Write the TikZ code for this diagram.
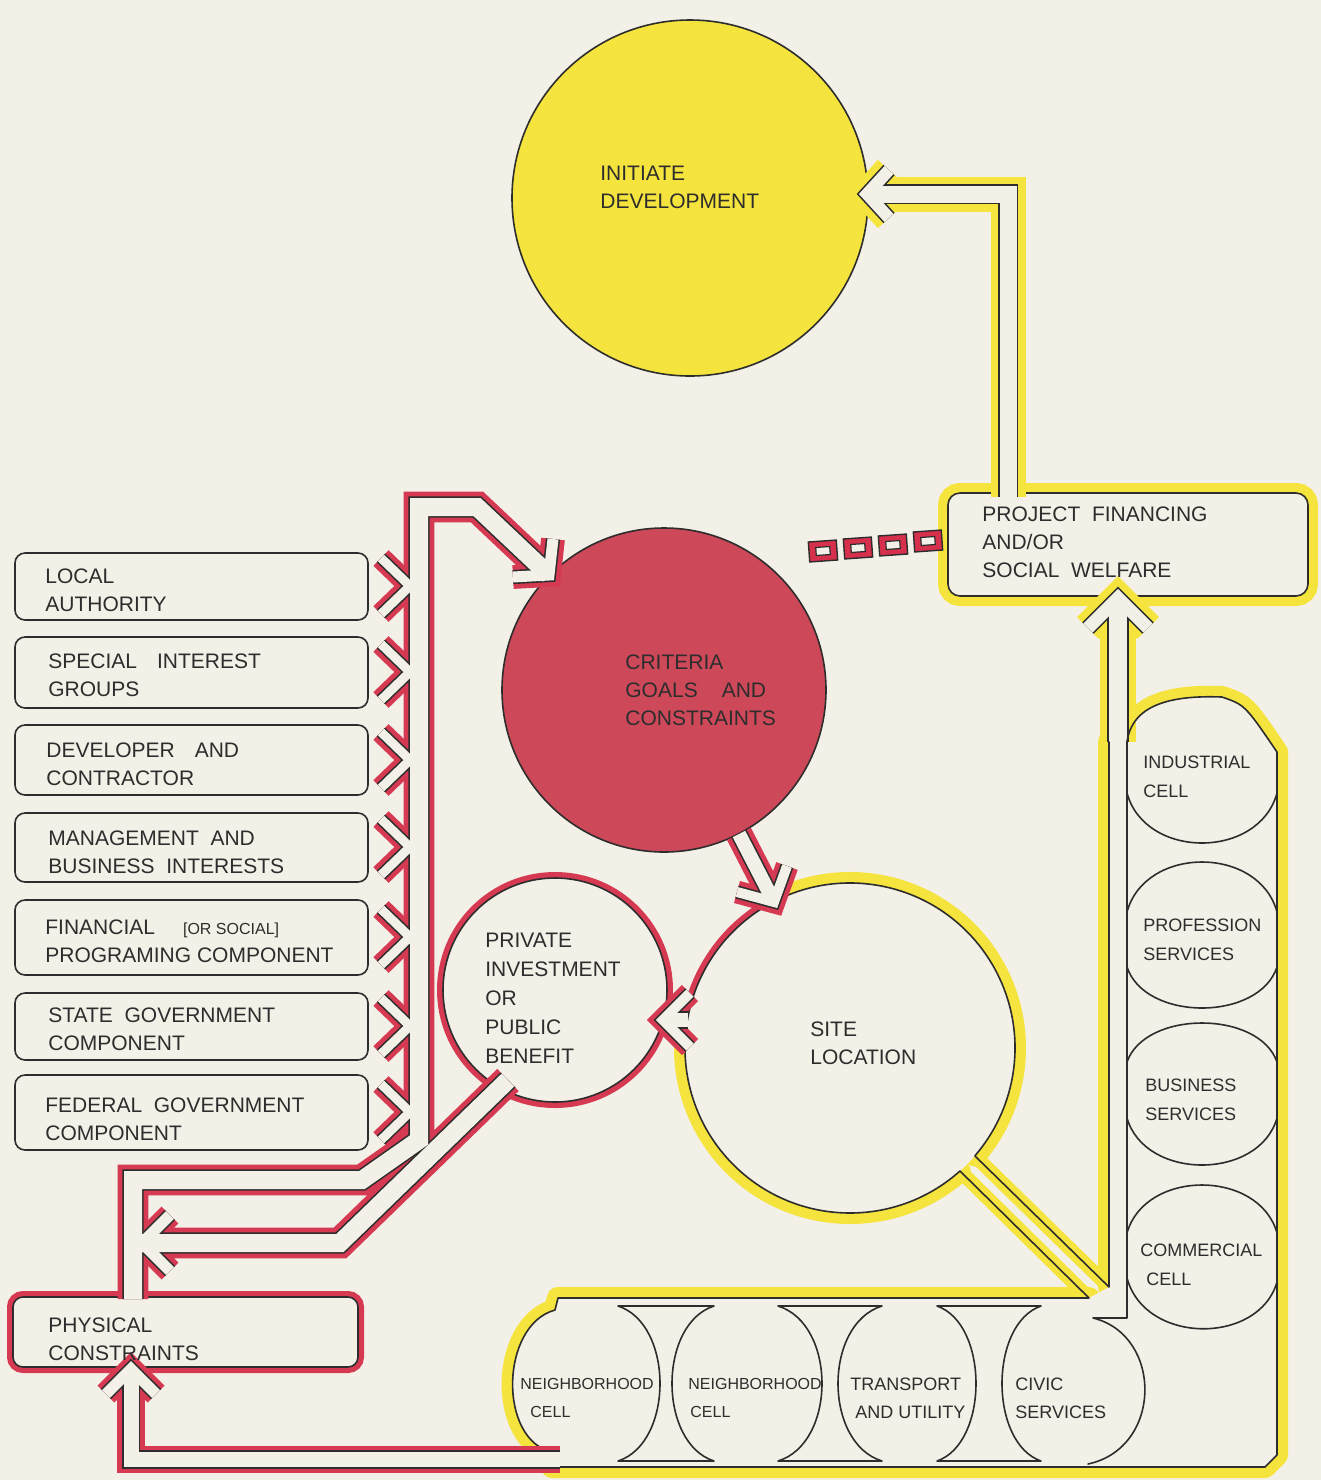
\documentclass[tikz,border=0pt]{standalone}
\usepackage{fontspec}
\setmainfont{Liberation Sans}
\definecolor{paper}{RGB}{242,240,231}
\definecolor{ink}{RGB}{45,45,45}
\definecolor{yel}{RGB}{246,228,62}
\definecolor{redfill}{RGB}{205,72,88}
\definecolor{redline}{RGB}{214,58,82}
\definecolor{sqred}{RGB}{214,48,76}

% one layer of a hand-drawn tube: 0 = coloured halo, 1 = ink walls, 2 = paper core
\newcommand\tubecol{redline}
\newcommand\tubehalo{6.4pt}
\newcommand\tubeseg[3]{%
  \ifcase#1\relax
    \draw[draw=\tubecol, line width={#2pt+\tubehalo}, line join=miter, line cap=butt] #3;%
  \or
    \draw[draw=ink, line width={#2pt+1.6pt}, line join=miter, line cap=butt] #3;%
  \or
    \draw[draw=paper, line width={#2pt}, line join=miter, line cap=butt] #3;%
  \fi}

% separator between two cells of the right-hand column
\newcommand\vglass[4]{%
  \draw[inkline] (1127,#1) -- (1127,#4)
    .. controls (1145,{#4-1.333*(#4-#3)}) and (1259,{#4-1.333*(#4-#3)}) .. (1277,#4)
    -- (1277,#1)
    .. controls (1259,{#1+1.333*(#2-#1)}) and (1145,{#1+1.333*(#2-#1)}) .. (1127,#1) -- cycle;}

% separator between two cells of the bottom row
\newcommand\hglass[3]{%
  \draw[inkline] ({#1-#2},1306) -- ({#1+#2},1306)
    .. controls ({#1+#2-1.333*(#2-#3)},1324) and ({#1+#2-1.333*(#2-#3)},1443) .. ({#1+#2},1461)
    -- ({#1-#2},1461)
    .. controls ({#1-#2+1.333*(#2-#3)},1443) and ({#1-#2+1.333*(#2-#3)},1324) .. ({#1-#2},1306) -- cycle;}

\begin{document}
\begin{tikzpicture}[x=0.5pt, y=-0.5pt,
  inkline/.style={draw=ink, line width=0.8pt, line join=round, line cap=round},
  yhalo/.style={draw=yel, line width=11pt, line join=round, line cap=round},
  rhalo/.style={draw=redline, line width=6pt, line join=round, line cap=round},
  lbox/.style={rectangle, rounded corners=5pt, draw=ink, line width=0.8pt, fill=paper,
               minimum width=176.5pt, inner sep=0pt},
  txt/.style={anchor=north west, inner sep=0pt, align=left, text=ink,
              font=\fontsize{10.5}{14}\selectfont},
  celltxt/.style={txt, font=\fontsize{9}{14.5}\selectfont},
  rowtxt/.style={txt, font=\fontsize{9}{14}\selectfont},
  nbtxt/.style={txt, font=\fontsize{8}{14}\selectfont},
  rsq/.style={rectangle, draw=ink, line width=0.7pt, fill=sqred, minimum width=14pt,
              minimum height=10pt, inner sep=0pt, rotate=4},
  rsqin/.style={rectangle, draw=ink, line width=0.6pt, fill=paper, minimum width=7pt,
                minimum height=4pt, inner sep=0pt, rotate=4}]

\fill[paper] (0,0) rectangle (1321,1480);
\useasboundingbox (0,0) rectangle (1321,1480);

% ---------- circles ----------
\node[circle, minimum size=178pt, inner sep=0pt, fill=yel, draw=ink, line width=0.8pt] (cInit) at (690,198) {};
\node[circle, minimum size=162pt, inner sep=0pt, fill=redfill, draw=ink, line width=0.8pt] (cCrit) at (664,690) {};
\node[circle, minimum size=112pt, inner sep=0pt, fill=paper, draw=ink, line width=0.8pt,
      preaction={draw=redline, line width=6pt}] (cPriv) at (555,990) {};
\coordinate (cSite) at (850,1048);

% ---------- boxes ----------
\node[lbox, minimum height=33.5pt] (bLocal)   at (191.5,586.5) {};
\node[lbox, minimum height=35.5pt] (bSpecial) at (191.5,672.5) {};
\node[lbox, minimum height=35pt]   (bDev)     at (191.5,760) {};
\node[lbox, minimum height=34.5pt] (bMgmt)    at (191.5,847.5) {};
\node[lbox, minimum height=37.5pt] (bFin)     at (191.5,937.5) {};
\node[lbox, minimum height=33.5pt] (bState)   at (191.5,1026.5) {};
\node[lbox, minimum height=37.5pt] (bFed)     at (191.5,1112.5) {};
\node[lbox, minimum width=172.5pt, minimum height=35pt,
      preaction={draw=redline, line width=6pt}] (bPhys) at (185.5,1332) {};
\node[lbox, minimum width=180pt, minimum height=51.5pt, rounded corners=6pt,
      preaction={draw=yel, line width=10pt}] (bProj) at (1128,544.5) {};

% ---------- yellow cell container, site circle and its stem ----------
\draw[yhalo] (1089,1298) -- (558,1298) -- (555,1310)
  .. controls (500,1325) and (498,1440) .. (552,1452);
\draw[yhalo] (552,1467) -- (1265,1467) -- (1277,1455)
  -- (1277,752) .. controls (1245,705) .. (1222,697)
  .. controls (1170,695) and (1132,705) .. (1127,742);
\draw[yhalo] (1109,742) -- (1109,1287);
\draw[yhalo, line width=7pt] (960,1171) -- (1089,1298);
\draw[yhalo, line width=7pt] (1109,1287) -- (975,1156);
\draw[yhalo] (cSite) ++(242:165) arc[start angle=242, end angle=400.7, radius=165];
\draw[yhalo] (cSite) ++(408.3:165) arc[start angle=408.3, end angle=550, radius=165];
\draw[rhalo] (cSite) ++(190:165) arc[start angle=190, end angle=242, radius=165];

\fill[paper] (558,1298) -- (1089,1298) -- (1109,1287) -- (1109,742) -- (1127,742)
  .. controls (1132,705) and (1170,695) .. (1222,697) .. controls (1245,705) .. (1277,752)
  -- (1277,1455) -- (1265,1467) -- (552,1467) -- (552,1452)
  .. controls (498,1440) and (500,1325) .. (555,1310) -- cycle;
\fill[paper] (cSite) circle[radius=165];

% ---------- yellow tubes: financing -> initiate, cells -> financing ----------
\renewcommand\tubecol{yel}
\renewcommand\tubehalo{9pt}
\foreach \lay in {0,1,2}{
  \tubeseg{\lay}{8.5}{(1008,497) -- (1008,194) -- (867,194)}
  \tubeseg{\lay}{6}{(889,170) -- (867,194) -- (889,218)}
  \tubeseg{\lay}{9}{(1118,742) -- (1118,598)}
  \tubeseg{\lay}{6.5}{(1088,628) -- (1118,598) -- (1148,628)}
}

% ---------- ink of container, stem and site circle ----------
\draw[inkline] (960,1171) -- (1089,1298) -- (558,1298) -- (555,1310)
  .. controls (500,1325) and (498,1440) .. (552,1452);
\draw[inkline] (552,1467) -- (1265,1467) -- (1277,1455)
  -- (1277,752) .. controls (1245,705) .. (1222,697)
  .. controls (1170,695) and (1132,705) .. (1127,742);
\draw[inkline] (1109,742) -- (1109,1287) -- (975,1156);
\draw[inkline] (1127,742) -- (1127,1318) -- (1093,1318)
  .. controls (1163,1335) and (1163,1448) .. (1088,1464);
\draw[inkline] (cSite) ++(190:165) arc[start angle=190, end angle=400.7, radius=165];
\draw[inkline] (cSite) ++(408.3:165) arc[start angle=408.3, end angle=550, radius=165];

% cells of the column and of the row
\vglass{793}{843}{862}{912}
\vglass{967}{1008}{1023}{1062}
\vglass{1118}{1165}{1185}{1233}
\draw[inkline] (1127,1278) .. controls (1145,1345) and (1259,1345) .. (1277,1282);
\hglass{666}{48}{6}
\hglass{830}{52}{8}
\hglass{989}{52}{13}

% ---------- red tubes ----------
\renewcommand\tubecol{redline}
\renewcommand\tubehalo{6.4pt}
\foreach \lay in {0,1,2}{
  \tubeseg{\lay}{9}{(133,1299) -- (133,1180) -- (362,1180) -- (419,1140) -- (419,507) -- (477,507) -- (549,575)}
  \tubeseg{\lay}{5.5}{(513,577) -- (549,575) -- (553,539)}
  \tubeseg{\lay}{9}{(508,1080) -- (340,1243) -- (142,1243)}
  \tubeseg{\lay}{5.5}{(170,1215) -- (142,1243) -- (170,1271)}
  \tubeseg{\lay}{7.5}{(560,1459.5) -- (131,1459.5) -- (131,1369)}
  \tubeseg{\lay}{5.5}{(106,1394) -- (131,1369) -- (156,1394)}
  \foreach \yc in {586,672,760,847,937,1026,1112}{
    \tubeseg{\lay}{4.5}{(381,{\yc-28}) -- (410,\yc) -- (381,{\yc+28})}
  }
  \tubeseg{\lay}{7}{(739,834) -- (774,902)}
  \tubeseg{\lay}{5}{(737,892) -- (774,902) -- (787,866)}
  \tubeseg{\lay}{7}{(688,1020) -- (663,1020)}
  \tubeseg{\lay}{5}{(690,993) -- (663,1020) -- (690,1047)}
}

% ---------- chain between criteria and financing ----------
\foreach \i/\px/\py in {1/823/551, 2/858/548, 3/893/545, 4/928/541}{
  \node[rsq] (sq\i) at (\px,\py) {};
  \node[rsqin] (sqin\i) at (sq\i) {};
}

% ---------- labels ----------
\node[txt] (tInit) at (600,166) {INITIATE\\DEVELOPMENT};
\node[txt] (tProj) at (982,506) {PROJECT\ \ FINANCING\\AND/OR\\SOCIAL\ \ WELFARE};
\node[txt] (tCrit) at (625,654) {CRITERIA\\GOALS\hspace{12pt}AND\\CONSTRAINTS};
\node[txt] (tLocal) at (45,568) {LOCAL\\AUTHORITY};
\node[txt] (tSpecial) at (48,653) {SPECIAL\hspace{10pt}INTEREST\\GROUPS};
\node[txt] (tDev) at (46,742) {DEVELOPER\hspace{10pt}AND\\CONTRACTOR};
\node[txt] (tMgmt) at (48,830) {MANAGEMENT\ \ AND\\BUSINESS\ \ INTERESTS};
\node[txt] (tFin) at (45,919) {FINANCIAL\hspace{14pt}{\fontsize{8}{14}\selectfont [OR SOCIAL]}\\PROGRAMING COMPONENT};
\node[txt] (tState) at (48,1007) {STATE\ \ GOVERNMENT\\COMPONENT};
\node[txt] (tFed) at (45,1097) {FEDERAL\ \ GOVERNMENT\\COMPONENT};
\node[txt, font=\fontsize{10.5}{14.5}\selectfont] (tPriv) at (485,933) {PRIVATE\\INVESTMENT\\OR\\PUBLIC\\BENEFIT};
\node[txt] (tSite) at (810,1021) {SITE\\LOCATION};
\node[txt] (tPhys) at (48,1317) {PHYSICAL\\CONSTRAINTS};
\node[celltxt] (tInd) at (1143,756) {INDUSTRIAL\\CELL};
\node[celltxt] (tProf) at (1143,919) {PROFESSION\\SERVICES};
\node[celltxt] (tBus) at (1145,1079) {BUSINESS\\SERVICES};
\node[celltxt] (tComm) at (1140,1244) {COMMERCIAL\\\hspace*{3pt}CELL};
\node[nbtxt] (tNb1) at (520,1378) {NEIGHBORHOOD\\\hspace*{5pt}CELL};
\node[nbtxt] (tNb2) at (688,1378) {NEIGHBORHOOD\\\hspace*{1pt}CELL};
\node[rowtxt] (tTrans) at (850,1378) {TRANSPORT\\\hspace*{2.5pt}AND UTILITY};
\node[rowtxt] (tCivic) at (1015,1378) {CIVIC\\SERVICES};
\end{tikzpicture}
\end{document}
